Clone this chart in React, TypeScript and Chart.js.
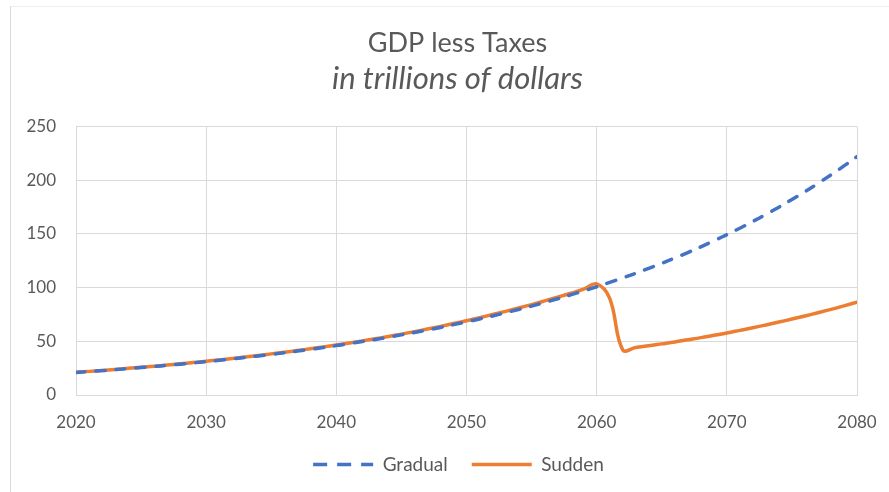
import React, { useEffect, useRef } from "react";
import { Chart, registerables } from "chart.js";

Chart.register(...registerables);

const years = [
  2020, 2021, 2022, 2023, 2024, 2025, 2026, 2027, 2028, 2029,
  2030, 2031, 2032, 2033, 2034, 2035, 2036, 2037, 2038, 2039,
  2040, 2041, 2042, 2043, 2044, 2045, 2046, 2047, 2048, 2049,
  2050, 2051, 2052, 2053, 2054, 2055, 2056, 2057, 2058, 2059,
  2060, 2061, 2062, 2063, 2064, 2065, 2066, 2067, 2068, 2069,
  2070, 2071, 2072, 2073, 2074, 2075, 2076, 2077, 2078, 2079,
  2080,
];

const gradual = [
  21.0, 21.8, 22.7, 23.6, 24.6, 25.6, 26.6, 27.6, 28.7, 29.9,
  31.1, 32.3, 33.6, 35.0, 36.4, 37.8, 39.3, 40.9, 42.5, 44.2,
  46.0, 47.8, 49.8, 51.7, 53.8, 56.0, 58.2, 60.5, 62.9, 65.5,
  68.1, 70.8, 73.6, 76.6, 79.6, 82.8, 86.1, 89.6, 93.2, 96.9,
  100.8, 104.8, 109.0, 113.3, 117.9, 122.6, 127.5, 132.6, 137.9, 143.5,
  149.3, 155.3, 161.6, 168.1, 174.9, 182.0, 189.3, 197.0, 205.0, 213.3,
  222.0,
];

const sudden = [
  21.2, 22.0, 22.9, 23.8, 24.8, 25.8, 26.8, 27.9, 29.0, 30.2,
  31.4, 32.7, 34.0, 35.4, 36.8, 38.3, 39.8, 41.4, 43.1, 44.8,
  46.6, 48.5, 50.4, 52.4, 54.5, 56.7, 59.0, 61.4, 63.9, 66.5,
  69.2, 72.0, 74.9, 77.9, 81.0, 84.2, 87.6, 91.1, 94.7, 98.5,
  103.5, 90.0, 42.0, 44.2, 45.8, 47.6, 49.4, 51.4, 53.4, 55.6,
  57.8, 60.2, 62.6, 65.2, 67.9, 70.7, 73.6, 76.6, 79.7, 83.0,
  86.4,
];

const seriesNames = ["Gradual", "Sudden"];
const xTicks = [2020, 2030, 2040, 2050, 2060, 2070, 2080];
const yTicks = [0, 50, 100, 150, 200, 250];
const titleText = "GDP less Taxes";
const subtitleText = "in trillions of dollars";

const FONT = "Lato, 'Open Sans', 'Liberation Sans', sans-serif";
const TEXT = "#595959";
const GRID = "#d9d9d9";
const BLUE = "#4472C4";
const ORANGE = "#ED7D31";

// Excel centres title and legend on the whole chart area, which is wider than the plot.
const shiftBlocks = {
  id: "shiftBlocks",
  afterLayout(chart: any) {
    for (const box of chart.boxes) {
      if (box === chart.legend) {
        box.left += 30;
        box.right += 30;
      } else if (box.position === "top") {
        box.left += 29;
        box.right += 29;
      }
    }
  },
};

export default function App() {
  const ref = useRef<HTMLCanvasElement | null>(null);

  useEffect(() => {
    document.body.style.margin = "0";
    const canvas = ref.current;
    if (!canvas) return;
    const toPts = (ys: number[]) => years.map((x, i) => ({ x, y: ys[i] }));
    const chart = new Chart(canvas, {
      type: "line",
      data: {
        datasets: [
          {
            label: seriesNames[0],
            data: toPts(gradual),
            borderColor: BLUE,
            backgroundColor: BLUE,
            borderWidth: 3.5,
            borderDash: [9, 11],
            borderCapStyle: "round",
            pointRadius: 0,
            tension: 0.4,
            fill: false,
          },
          {
            label: seriesNames[1],
            data: toPts(sudden),
            borderColor: ORANGE,
            backgroundColor: ORANGE,
            borderWidth: 3.5,
            borderCapStyle: "round",
            pointRadius: 0,
            tension: 0.4,
            fill: false,
          },
        ],
      },
      plugins: [shiftBlocks],
      options: {
        animation: false,
        responsive: false,
        maintainAspectRatio: false,
        devicePixelRatio: 1,
        layout: { padding: { left: 0, right: 32, top: 0, bottom: 8 } },
        plugins: {
          title: {
            display: true,
            text: titleText,
            color: TEXT,
            font: { family: FONT, size: 27, weight: "normal", lineHeight: 1 },
            padding: { top: 30, bottom: 0 },
          },
          subtitle: {
            display: true,
            text: subtitleText,
            color: TEXT,
            font: { family: FONT, size: 31, style: "italic", weight: "normal", lineHeight: 1 },
            padding: { top: 6, bottom: 32.5 },
          },
          legend: {
            display: true,
            position: "bottom",
            labels: {
              color: TEXT,
              font: { family: FONT, size: 19 },
              usePointStyle: true,
              pointStyle: "line",
              pointStyleWidth: 60,
              padding: 24,
              generateLabels: (c: any) =>
                c.data.datasets.map((ds: any, i: number) => ({
                  text: ds.label,
                  fillStyle: ds.borderColor,
                  strokeStyle: ds.borderColor,
                  lineWidth: 3.5,
                  lineDash: ds.borderDash ? [14, 10] : [],
                  lineCap: "butt",
                  pointStyle: "line",
                  datasetIndex: i,
                  hidden: false,
                  fontColor: TEXT,
                })),
            },
          },
          tooltip: { enabled: false },
        },
        scales: {
          x: {
            type: "linear",
            min: 2020,
            max: 2080,
            afterBuildTicks: (s: any) => {
              s.ticks = xTicks.map((v) => ({ value: v }));
            },
            afterFit: (s: any) => {
              s.height = 36;
              s.paddingLeft = 0;
              s.paddingRight = 0;
            },
            ticks: {
              color: TEXT,
              font: { family: FONT, size: 17 },
              padding: 17,
              maxRotation: 0,
              autoSkip: false,
              callback: (v: any) => String(v),
            },
            grid: { color: GRID, lineWidth: 1, drawTicks: false },
            border: { display: true, color: GRID, width: 1 },
          },
          y: {
            type: "linear",
            min: 0,
            max: 250,
            afterBuildTicks: (s: any) => {
              s.ticks = yTicks.map((v) => ({ value: v }));
            },
            afterFit: (s: any) => {
              s.width = 76;
            },
            ticks: {
              color: TEXT,
              font: { family: FONT, size: 17 },
              padding: 20,
              callback: (v: any) => String(v),
            },
            grid: { color: GRID, lineWidth: 1, drawTicks: false },
            border: { display: false },
          },
        },
      },
    });
    return () => chart.destroy();
  }, []);

  return (
    <div style={{ position: "relative", width: 889, height: 492, background: "#fff", overflow: "hidden" }}>
      <div
        style={{
          position: "absolute",
          left: 10,
          top: 6,
          width: 900,
          height: 500,
          borderLeft: "1px solid #d9d9d9",
          borderTop: "1px solid #eeeeee",
        }}
      />
      <canvas ref={ref} width={889} height={492} style={{ position: "absolute", left: 0, top: 0, width: 889, height: 492 }} />
    </div>
  );
}
